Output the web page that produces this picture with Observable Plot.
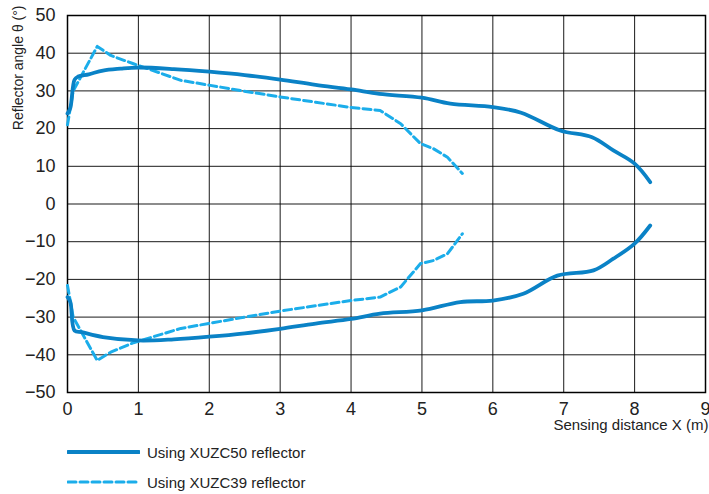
<!DOCTYPE html>
<html><head><meta charset="utf-8">
<script src="https://cdn.jsdelivr.net/npm/d3@7"></script>
<script src="https://cdn.jsdelivr.net/npm/@observablehq/plot@0.6"></script>
<style>
body{margin:0;background:#fff;font-family:"Liberation Sans",Arial,sans-serif}
#wrap{position:relative;width:709px;height:494px;overflow:hidden}
.leg{position:absolute;left:67px;height:20px;font-size:15px;color:#222;display:flex;align-items:center;white-space:nowrap}
.leg svg{margin-right:7px}
</style></head><body><div id="wrap"></div>
<script>
const xTicks = [0,1,2,3,4,5,6,7,8,9];
const yTicks = [-50,-40,-30,-20,-10,0,10,20,30,40,50];
const xLabel = "Sensing distance X (m)";
const yLabel = "Reflector angle θ (°)";
const seriesNames = ["Using XUZC50 reflector","Using XUZC39 reflector"];

// XUZC50 (solid), upper branch
const c50UpX = [0,0.04,0.1,0.15,0.3,0.5,0.75,1,1.5,2,2.5,3,3.5,4,4.4,5,5.4,6,6.4,6.95,7.4,7.7,8,8.22];
const c50UpY = [24,25.5,33,33.8,34.4,35.4,35.9,36.2,35.8,35.1,34.2,33.0,31.6,30.4,29.2,28.2,26.6,25.7,24.2,19.5,17.7,14.2,10.7,5.8];
// XUZC50 (solid), lower branch
const c50LoX = [0,0.04,0.1,0.2,0.5,1,1.5,2,2.5,3,3.5,4,4.41,5,5.54,6,6.43,6.91,7.42,7.7,8,8.22];
const c50LoY = [-24.7,-26,-33.6,-34,-35.3,-36.2,-35.9,-35.2,-34.3,-33.1,-31.7,-30.5,-29.1,-28.2,-26,-25.6,-23.8,-19,-17.6,-14.5,-10.5,-5.7];
// XUZC39 (dashed), upper branch
const c39UpX = [0,0.08,0.42,0.61,0.93,1.6,2.44,3,3.5,4,4.41,4.7,4.98,5.16,5.36,5.57];
const c39UpY = [21,30,41.8,39.4,37.2,32.8,30.1,28.4,27,25.6,24.8,21.3,16,14.7,12.4,8.1];
// XUZC39 (dashed), lower branch
const c39LoX = [0,0.08,0.42,0.61,0.93,1.6,2.44,3,3.5,4,4.41,4.7,4.98,5.16,5.36,5.57];
const c39LoY = [-21.6,-30,-41.5,-39.3,-36.8,-33,-30.2,-28.4,-27,-25.6,-24.7,-22,-15.8,-15,-13.2,-7.9];

const solidColor = "#0a82c6";
const dashColor = "#1badea";

const rows = (xs, ys, branch) => xs.map((x,i)=>({x, y: ys[i], branch}));
const d50 = [...rows(c50UpX,c50UpY,"up"), ...rows(c50LoX,c50LoY,"lo")];
const d39 = [...rows(c39UpX,c39UpY,"up"), ...rows(c39LoX,c39LoY,"lo")];

const chart = Plot.plot({
  width: 709, height: 440,
  marginLeft: 67, marginRight: 4, marginTop: 15, marginBottom: 48,
  style: {fontFamily: '"Liberation Sans", Arial, sans-serif', fontSize: "18px", color: "#222", background: "white", overflow: "visible"},
  x: {domain: [0,9], label: null},
  y: {domain: [-50,50], label: null},
  marks: [
    Plot.gridX(xTicks, {stroke: "#000", strokeOpacity: 0.9, strokeWidth: 1}),
    Plot.gridY(yTicks, {stroke: "#000", strokeOpacity: 0.9, strokeWidth: 1}),
    Plot.frame({stroke: "#000", strokeWidth: 1.5}),
    Plot.axisX(xTicks, {tickSize: 0, tickPadding: 10, fontSize: 18, fill: "#222"}),
    Plot.axisY(yTicks, {tickSize: 0, tickPadding: 12, fontSize: 18, fill: "#222"}),
    Plot.line(d39, {x: "x", y: "y", z: "branch", stroke: dashColor, strokeWidth: 3, strokeDasharray: "8,4", curve: "linear"}),
    Plot.line(d50, {x: "x", y: "y", z: "branch", stroke: solidColor, strokeWidth: 3.8, curve: "catmull-rom"}),
    Plot.text([yLabel], {frameAnchor: "top-left", rotate: -90, textAnchor: "end", lineAnchor: "middle", dx: -49, dy: -10, fontSize: 14, fill: "#222"}),
    Plot.text([xLabel], {frameAnchor: "bottom-right", textAnchor: "end", lineAnchor: "middle", dx: 3, dy: 33, fontSize: 15, fill: "#222"})
  ]
});
const wrap = document.getElementById("wrap");
wrap.appendChild(chart);

const legendItems = [
  {name: seriesNames[0], color: solidColor, dash: null, w: 3.8, top: 442},
  {name: seriesNames[1], color: dashColor, dash: "8,4", w: 3, top: 472}
];
for (const it of legendItems) {
  const div = document.createElement("div");
  div.className = "leg";
  div.style.top = it.top + "px";
  div.innerHTML = `<svg width="73" height="20"><line x1="1" x2="72" y1="10" y2="10" stroke="${it.color}" stroke-width="${it.w}" stroke-linecap="round" ${it.dash ? `stroke-dasharray="${it.dash}"` : ""}/></svg><span>${it.name}</span>`;
  wrap.appendChild(div);
}
</script></body></html>
